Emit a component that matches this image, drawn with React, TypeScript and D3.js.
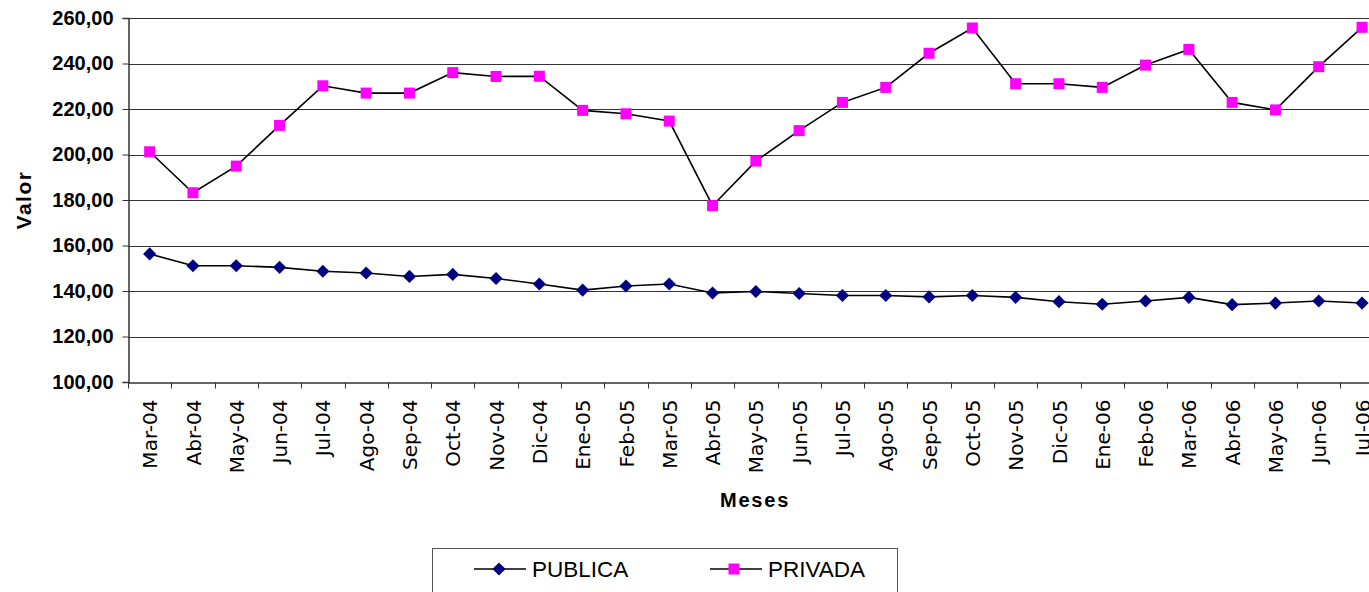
import { useEffect, useRef } from 'react';
import * as d3 from 'd3';

/* ═══ data ═══ */
const months = [
  'Mar-04', 'Abr-04', 'May-04', 'Jun-04', 'Jul-04', 'Ago-04', 'Sep-04', 'Oct-04', 'Nov-04', 'Dic-04',
  'Ene-05', 'Feb-05', 'Mar-05', 'Abr-05', 'May-05', 'Jun-05', 'Jul-05', 'Ago-05', 'Sep-05', 'Oct-05',
  'Nov-05', 'Dic-05', 'Ene-06', 'Feb-06', 'Mar-06', 'Abr-06', 'May-06', 'Jun-06', 'Jul-06',
];
const publica = [
  156.3, 151.1, 151.1, 150.4, 148.7, 147.9, 146.4, 147.3, 145.5, 143.1,
  140.4, 142.2, 143.1, 139.1, 139.8, 138.9, 138.0, 138.0, 137.4, 138.0,
  137.2, 135.3, 134.2, 135.6, 137.2, 134.0, 134.7, 135.6, 134.7,
];
const privada = [
  201.2, 183.2, 194.9, 212.8, 230.2, 227.0, 227.0, 236.0, 234.3, 234.4,
  219.4, 217.9, 214.7, 177.5, 197.1, 210.5, 222.9, 229.5, 244.5, 255.6,
  231.1, 231.1, 229.5, 239.3, 246.2, 222.9, 219.6, 238.6, 255.9,
];
const yTicks = [100, 120, 140, 160, 180, 200, 220, 240, 260];

const W = 1369, H = 592;
const M = { left: 128, top: 18, bottom: 382 };
const step = 43.3;

export default function App() {
  const ref = useRef<SVGSVGElement>(null);

  useEffect(() => {
    if (!ref.current) return;
    const svg = d3.select(ref.current);
    svg.selectAll('*').remove();

    const x = d3.scaleBand().domain(months).range([M.left, M.left + step * months.length]);
    const y = d3.scaleLinear().domain([100, 260]).range([M.bottom, M.top]);
    const right = M.left + step * months.length;

    // gridlines
    svg.append('g').selectAll('line').data(yTicks.slice(1)).join('line')
      .attr('x1', M.left).attr('x2', right)
      .attr('y1', d => Math.round(y(d)) + 0.5).attr('y2', d => Math.round(y(d)) + 0.5)
      .attr('stroke', '#333').attr('stroke-width', 1);

    // y axis
    const yAx = svg.append('g').attr('transform', `translate(${M.left + 0.5},0)`)
      .call(d3.axisLeft(y).tickValues(yTicks).tickSize(6).tickPadding(9)
        .tickFormat(d => d3.format('.2f')(d as number).replace('.', ',')));
    yAx.select('.domain').attr('stroke', '#333').attr('stroke-width', 1.5);
    yAx.selectAll('.tick line').attr('stroke', '#333');
    yAx.selectAll('text').attr('font-family', '"Liberation Sans", Arial, sans-serif')
      .attr('font-size', 20).attr('font-weight', 'bold').attr('fill', '#000');

    // x axis
    const xAx = svg.append('g').attr('transform', `translate(0,${M.bottom + 0.5})`)
      .call(d3.axisBottom(x).tickSize(0).tickPadding(0));
    xAx.select('.domain').attr('stroke', '#333').attr('stroke-width', 1.5);
    xAx.selectAll('.tick text')
      .attr('font-family', '"DejaVu Sans", Verdana, sans-serif')
      .attr('font-size', 20).attr('fill', '#000')
      .attr('text-anchor', 'end')
      .attr('transform', 'rotate(-90)')
      .attr('x', -17).attr('y', 0).attr('dy', '0.38em');
    // category boundary ticks
    xAx.append('g').selectAll('line').data(d3.range(months.length + 1)).join('line')
      .attr('x1', i => Math.round(M.left + i * step) + 0.5).attr('x2', i => Math.round(M.left + i * step) + 0.5)
      .attr('y1', 0).attr('y2', 6).attr('stroke', '#333');

    // axis titles
    svg.append('text').attr('transform', 'translate(31,200) rotate(-90)')
      .attr('text-anchor', 'middle').attr('font-family', '"Liberation Sans", Arial, sans-serif')
      .attr('font-size', 21).attr('font-weight', 'bold').attr('letter-spacing', 1.5).text('Valor');
    svg.append('text').attr('x', 755).attr('y', 507)
      .attr('text-anchor', 'middle').attr('font-family', '"Liberation Sans", Arial, sans-serif')
      .attr('font-size', 20).attr('font-weight', 'bold').attr('letter-spacing', 1.8).text('Meses');

    const cx = (i: number) => (x(months[i]) as number) + x.bandwidth() / 2;
    const line = d3.line<number>().x((_, i) => cx(i)).y(d => y(d));

    // PUBLICA
    svg.append('path').datum(publica).attr('d', line)
      .attr('fill', 'none').attr('stroke', '#000').attr('stroke-width', 1.6);
    const diamond = d3.symbol(d3.symbolDiamond2, 110);
    svg.append('g').selectAll('path').data(publica).join('path')
      .attr('d', diamond)
      .attr('transform', (d, i) => `translate(${cx(i)},${y(d)})`)
      .attr('fill', '#000080');

    // PRIVADA
    svg.append('path').datum(privada).attr('d', line)
      .attr('fill', 'none').attr('stroke', '#000').attr('stroke-width', 1.6);
    svg.append('g').selectAll('rect').data(privada).join('rect')
      .attr('x', (d, i) => cx(i) - 5.5).attr('y', d => y(d) - 5.5)
      .attr('width', 11).attr('height', 11)
      .attr('fill', '#ff00ff');

    // legend
    const lg = svg.append('g');
    lg.append('rect').attr('x', 432.5).attr('y', 548.5).attr('width', 465).attr('height', 60)
      .attr('fill', '#fff').attr('stroke', '#555').attr('stroke-width', 1);
    const items = [
      { name: 'PUBLICA', x0: 474, kind: 'diamond' },
      { name: 'PRIVADA', x0: 710, kind: 'square' },
    ];
    items.forEach(it => {
      const ly = 569;
      lg.append('line').attr('x1', it.x0).attr('x2', it.x0 + 52).attr('y1', ly).attr('y2', ly)
        .attr('stroke', '#000').attr('stroke-width', 1.6);
      if (it.kind === 'diamond') {
        lg.append('path').attr('d', diamond).attr('transform', `translate(${it.x0 + 25},${ly})`).attr('fill', '#000080');
      } else {
        lg.append('rect').attr('x', it.x0 + 24 - 5.5).attr('y', ly - 5.5).attr('width', 11).attr('height', 11).attr('fill', '#ff00ff');
      }
      lg.append('text').attr('x', it.x0 + 58).attr('y', 577)
        .attr('font-family', '"Liberation Sans", Arial, sans-serif').attr('font-size', 22.5)
        .text(it.name);
    });
  }, []);

  return (
    <div style={{ position: 'fixed', left: 0, top: 0, width: W, height: H, overflow: 'hidden', background: '#fff' }}>
      <svg ref={ref} width={W} height={H} style={{ display: 'block' }} />
    </div>
  );
}
